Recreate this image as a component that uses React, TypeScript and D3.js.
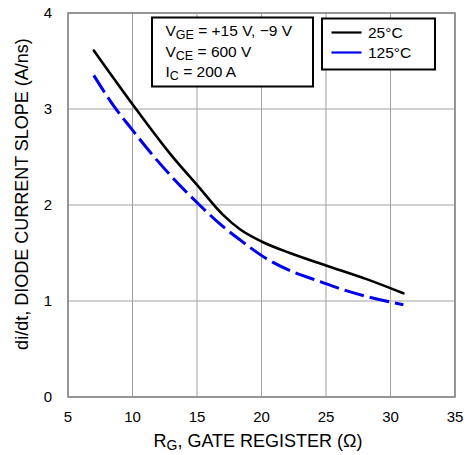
import React from "react";
import * as d3 from "d3";

const xTicks = [5, 10, 15, 20, 25, 30, 35];
const yTicks = [0, 1, 2, 3, 4];

const rg25 = [7, 10, 13, 15, 17, 18.3, 20, 22.2, 25, 28.2, 31];
const slope25 = [3.61, 3.05, 2.52, 2.21, 1.9, 1.75, 1.62, 1.5, 1.37, 1.225, 1.08];

const rg125 = [7, 8.5, 10, 11.5, 13, 15.2, 16.8, 18.3, 20.4, 22.5, 24.6, 26.5, 28.2, 31];
const slope125 = [3.35, 3.04, 2.78, 2.53, 2.3, 2.0, 1.8, 1.64, 1.44, 1.3, 1.2, 1.11, 1.045, 0.96];

const W = 469, H = 455;
const left = 68, right = 455, top = 13, bottom = 397;
const font = "'Liberation Sans', Arial, Helvetica, sans-serif";

export default function App() {
  const x = d3.scaleLinear().domain([5, 35]).range([left, right]);
  const y = d3.scaleLinear().domain([0, 4]).range([bottom, top]);
  const line = d3
    .line<[number, number]>()
    .x((d) => x(d[0]))
    .y((d) => y(d[1]))
    .curve(d3.curveMonotoneX);
  const d25 = line(rg25.map((v, i) => [v, slope25[i]] as [number, number])) || "";
  const d125 = line(rg125.map((v, i) => [v, slope125[i]] as [number, number])) || "";

  return (
    <svg
      width={W}
      height={H}
      style={{ position: "absolute", left: 0, top: 0, background: "#fff" }}
      fontFamily={font}
    >
      {xTicks.map((t) => (
        <line key={"gx" + t} x1={x(t)} x2={x(t)} y1={top} y2={bottom} stroke="#a0a0a0" strokeWidth={1} />
      ))}
      {yTicks.map((t) => (
        <line key={"gy" + t} x1={left} x2={right} y1={y(t)} y2={y(t)} stroke="#a0a0a0" strokeWidth={1} />
      ))}
      <rect x={left} y={top} width={right - left} height={bottom - top} fill="none" stroke="#888" strokeWidth={1.6} />
      {xTicks.map((t) => (
        <text key={"tx" + t} x={x(t)} y={422} fontSize={15} textAnchor="middle" fill="#000">
          {t}
        </text>
      ))}
      {yTicks.map((t) => (
        <text key={"ty" + t} x={52} y={y(t) + 5} fontSize={15} textAnchor="end" fill="#000">
          {t}
        </text>
      ))}
      <text x={258} y={447} fontSize={18} textAnchor="middle" fill="#000">
        R<tspan fontSize={14} dy={3}>G</tspan>
        <tspan dy={-3}>, GATE REGISTER (Ω)</tspan>
      </text>
      <text
        transform={`translate(28,194) rotate(-90)`}
        fontSize={18}
        textAnchor="middle"
        fill="#000"
      >
        di/dt, DIODE CURRENT SLOPE (A/ns)
      </text>

      <path d={d25} fill="none" stroke="#000" strokeWidth={2.6} strokeLinecap="round" />
      <path d={d125} fill="none" stroke="#0000ee" strokeWidth={3} strokeDasharray="20 6" />

      <rect x={152} y={17.5} width={161} height={69} fill="#fff" stroke="#000" strokeWidth={2} />
      <text x={165.5} y={36} fontSize={15.5} fill="#000">
        V<tspan fontSize={12.5} dy={3}>GE</tspan>
        <tspan dy={-3}> = +15 V, −9 V</tspan>
      </text>
      <text x={165.5} y={57} fontSize={15.5} fill="#000">
        V<tspan fontSize={12.5} dy={3}>CE</tspan>
        <tspan dy={-3}> = 600 V</tspan>
      </text>
      <text x={165.5} y={77} fontSize={15.5} fill="#000">
        I<tspan fontSize={12.5} dy={3}>C</tspan>
        <tspan dy={-3}> = 200 A</tspan>
      </text>

      <rect x={322} y={18.5} width={113} height={51} fill="#fff" stroke="#000" strokeWidth={2} />
      <line x1={331.5} x2={361.5} y1={32.5} y2={32.5} stroke="#000" strokeWidth={2.2} />
      <line x1={331.5} x2={361.5} y1={52.5} y2={52.5} stroke="#0000ee" strokeWidth={2.2} />
      <text x={368} y={38} fontSize={15.5} fill="#000">25°C</text>
      <text x={368} y={58} fontSize={15.5} fill="#000">125°C</text>
    </svg>
  );
}
